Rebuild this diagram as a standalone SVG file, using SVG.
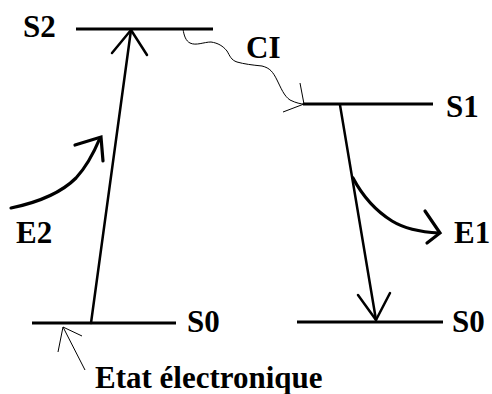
<svg xmlns="http://www.w3.org/2000/svg" width="492" height="394" viewBox="0 0 492 394">
<style>
  .lbl { font-family: "Liberation Serif", "Times New Roman", serif; font-weight: bold; font-size: 31px; fill: #000; }
  .lvl { stroke: #000; stroke-width: 3; fill: none; }
  .arr { stroke: #000; stroke-width: 2.5; fill: none; stroke-linecap: round; stroke-linejoin: round; }
  .thin { stroke: #000; stroke-width: 1; fill: none; }
  .thick { stroke: #000; stroke-width: 3.2; fill: none; stroke-linecap: round; }
</style>
<rect width="492" height="394" fill="#fff"/>
<g id="S2">
  <line class="lvl" x1="76" y1="29" x2="213" y2="29"/>
  <text class="lbl" x="23" y="37">S2</text>
</g>
<g id="S1">
  <line class="lvl" x1="303" y1="104" x2="433" y2="104"/>
  <text class="lbl" x="446" y="117">S1</text>
</g>
<g id="S0-left">
  <line class="lvl" x1="32" y1="323" x2="176" y2="323"/>
  <text class="lbl" x="187" y="332">S0</text>
</g>
<g id="S0-right">
  <line class="lvl" x1="297" y1="322" x2="443" y2="322"/>
  <text class="lbl" x="452" y="332">S0</text>
</g>
<g id="E2">
  <text class="lbl" x="16" y="243">E2</text>
</g>
<g id="E1">
  <text class="lbl" x="454" y="243">E1</text>
</g>
<g id="CI">
  <text class="lbl" x="246" y="58">CI</text>
</g>
<g id="etat">
  <text class="lbl" x="95" y="388">Etat électronique</text>
</g>
<g id="connectors">
  <!-- absorption S0 -> S2 -->
  <line class="arr" x1="91" y1="323" x2="131" y2="30"/>
  <polyline class="arr" points="112,53 131,30 147,55"/>
  <!-- E2 incoming photon -->
  <path class="thick" d="M11,208 C40,202 62,192 76,178 C88,165 95,150 100,138"/>
  <polyline class="thick" points="75,145 101,137 103,161"/>
  <!-- CI wavy -->
  <path class="thin" d="M183,29 C184,36 186,41 190,43 C196,46 204,42 211,42 C218,43 223,46 227,51 C230,56 231,60 237,62 C244,64 252,65 262,66 C270,68 273,72 277,80 C281,88 284,96 290,100 C296,103 301,104 304,104"/>
  <line class="thin" x1="304" y1="104" x2="300" y2="83"/>
  <line class="thin" x1="304" y1="104" x2="283" y2="112"/>
  <!-- fluorescence S1 -> S0 -->
  <line class="arr" x1="340" y1="105" x2="376" y2="320"/>
  <polyline class="arr" points="358,295 376,320 390,293"/>
  <!-- E1 outgoing photon -->
  <path class="thick" d="M353,178 C362,195 376,211 392,221 C405,229 420,232 439,233"/>
  <polyline class="thick" points="425,211 440,233 427,243"/>
  <!-- Etat pointer -->
  <line class="thin" x1="63" y1="327" x2="85" y2="370"/>
  <line class="thin" x1="63" y1="327" x2="58" y2="352"/>
  <line class="thin" x1="63" y1="327" x2="82" y2="336"/>
</g>
</svg>
